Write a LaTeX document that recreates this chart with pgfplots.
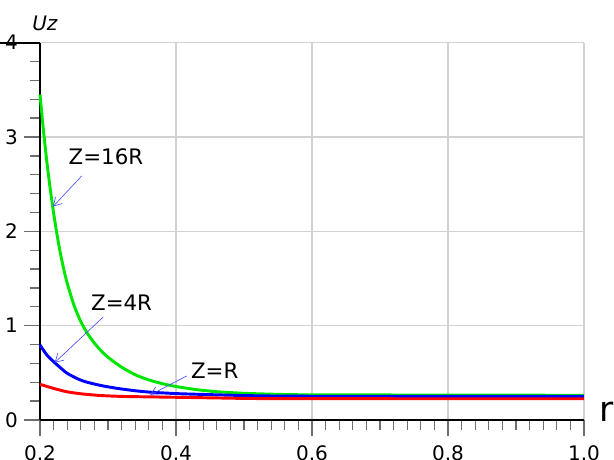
\documentclass[border=0pt]{standalone}
\usepackage{pgfplots}
\pgfplotsset{compat=1.18}
\usepackage{fontspec}
\setmainfont{DejaVu Sans}
\usetikzlibrary{arrows.meta}
\definecolor{cgreen}{RGB}{0,230,0}
\definecolor{cblue}{RGB}{0,0,255}
\definecolor{cred}{RGB}{255,0,0}
\definecolor{carrow}{RGB}{80,80,255}
\definecolor{cgrid}{RGB}{210,210,210}
\definecolor{ctick}{RGB}{110,110,110}
\begin{document}
\begin{tikzpicture}
\begin{axis}[
  at={(0,0)}, anchor=south west,
  scale only axis,
  width=408pt, height=283pt,
  xmin=0.2, xmax=1.0, ymin=0, ymax=4,
  axis x line=bottom, axis y line=left,
  axis line style={-, black, line width=1.8pt},
  xtick={0.2,0.4,0.6,0.8,1.0},
  xticklabels={0.2,0.4,0.6,0.8,1.0},
  ytick={0,1,2,3,4},
  yticklabels={0,1,2,3,4},
  minor xtick={0.22,0.24,...,0.99},
  minor ytick={0.2,0.4,...,3.9},
  tick align=outside,
  major tick length=12pt,
  minor tick length=7.5pt,
  every tick/.style={ctick, line width=1pt},
  grid=major,
  major grid style={cgrid, line width=1pt},
  tick label style={font=\fontsize{15}{18}\selectfont},
  xticklabel style={yshift=-3.5pt},
  yticklabel style={xshift=-1pt},
  clip=false,
]
\addplot[cgreen, line width=2.2pt, smooth, tension=0.4] coordinates {
 (0.2,3.45) (0.205,3.075) (0.21,2.744) (0.215,2.452) (0.22,2.195) (0.225,1.967)
 (0.23,1.767) (0.235,1.596) (0.24,1.451) (0.25,1.216) (0.26,1.043) (0.27,0.915)
 (0.28,0.815) (0.29,0.732) (0.30,0.665) (0.32,0.56) (0.34,0.48) (0.36,0.425)
 (0.38,0.385) (0.40,0.355) (0.43,0.322) (0.46,0.30) (0.50,0.283) (0.55,0.272)
 (0.60,0.267) (0.84,0.264) (1.0,0.262)};
\addplot[cblue, line width=2.2pt, smooth, tension=0.4] coordinates {
 (0.2,0.795) (0.21,0.69) (0.2216,0.608) (0.239,0.50) (0.2559,0.435) (0.2686,0.402)
 (0.29,0.365) (0.313,0.336) (0.34,0.31) (0.362,0.295) (0.40,0.28) (0.435,0.272)
 (0.509,0.258) (0.6,0.252) (1.0,0.25)};
\addplot[cred, line width=2.2pt, smooth, tension=0.4] coordinates {
 (0.2,0.378) (0.22,0.335) (0.239,0.30) (0.26,0.278) (0.288,0.26) (0.32,0.25)
 (0.362,0.245) (0.45,0.235) (0.51,0.228) (0.6,0.226) (1.0,0.225)};
% annotations
\draw[carrow, line width=0.5pt, -{Straight Barb[length=6pt,width=7pt]}] (axis cs:0.2613,2.587) -- (axis cs:0.2191,2.262);
\draw[carrow, line width=0.5pt, -{Straight Barb[length=6pt,width=7pt]}] (axis cs:0.293,1.092) -- (axis cs:0.2216,0.608);
\draw[carrow, line width=0.5pt, -{Straight Barb[length=6pt,width=7pt]}] (axis cs:0.4157,0.467) -- (axis cs:0.362,0.265);
\node[font=\fontsize{16}{18}\selectfont] at (axis cs:0.297,2.79) {Z=16R};
\node[font=\fontsize{16}{18}\selectfont] at (axis cs:0.320,1.246) {Z=4R};
\node[font=\fontsize{16}{18}\selectfont] at (axis cs:0.457,0.52) {Z=R};
\draw[black, line width=1.5pt] (axis cs:0.2,4) -- ++(-11pt,0);
\draw[black, line width=1.5pt] (axis cs:0.2,4) -- ++(15pt,0);
\node[font=\fontsize{15}{18}\selectfont\itshape] at (axis description cs:0.009,1.052) {Uz};
\node[font=\fontsize{26}{30}\selectfont] at (axis description cs:1.042,0.022) {r};
\end{axis}
\pgfresetboundingbox
\path (-30pt,-30pt) rectangle (430.5pt,315pt);
\end{tikzpicture}
\end{document}
